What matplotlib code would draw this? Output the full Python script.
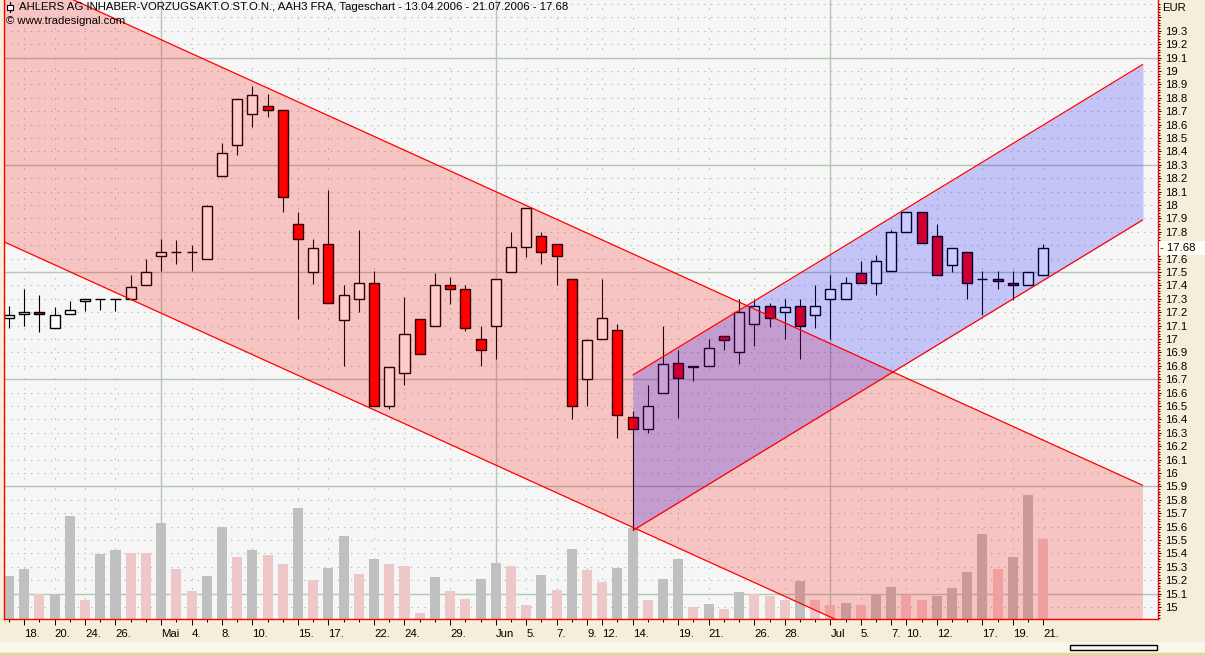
import matplotlib
matplotlib.use("Agg")
import matplotlib.pyplot as plt
import numpy as np
from matplotlib.patches import Rectangle
from matplotlib.lines import Line2D

plt.rcParams['font.family'] = ['Liberation Sans', 'DejaVu Sans']

W, H = 1205, 656

# ---------------- data ----------------
title = "AHLERS AG INHABER-VORZUGSAKT.O.ST.O.N., AAH3 FRA, Tageschart - 13.04.2006 - 21.07.2006 - 17.68"
source = "\u00a9 www.tradesignal.com"
currency = "EUR"
last_price = 17.68

dates = (["2006-04-%02d" % d for d in [13, 18, 19, 20, 21, 24, 25, 26, 27, 28]] +
         ["2006-05-%02d" % d for d in [2, 3, 4, 5, 8, 9, 10, 11, 12, 15, 16, 17, 18, 19,
                                       22, 23, 24, 25, 26, 29, 30, 31]] +
         ["2006-06-%02d" % d for d in [1, 2, 5, 6, 7, 8, 9, 12, 13, 14, 15, 16, 19, 20,
                                       21, 22, 23, 26, 27, 28, 29, 30]] +
         ["2006-07-%02d" % d for d in [3, 4, 5, 6, 7, 10, 11, 12, 13, 14, 17, 18, 19, 20, 21]])

open_ = [17.16, 17.19, 17.20, 17.08, 17.19, 17.28, 17.30, 17.30, 17.30, 17.40,
         17.62, 17.65, 17.65, 17.60, 18.22, 18.45, 18.68, 18.74, 18.71, 17.86,
         17.50, 17.71, 17.14, 17.30, 17.42, 16.50, 16.75, 17.15, 17.10, 17.40,
         17.37, 17.00, 17.10, 17.50, 17.69, 17.77, 17.71, 17.45, 16.70, 17.00,
         17.07, 16.42, 16.33, 16.60, 16.82, 16.79, 16.80, 17.02, 16.90, 17.11,
         17.25, 17.20, 17.25, 17.18, 17.30, 17.30, 17.49, 17.42, 17.51, 17.80,
         17.95, 17.77, 17.55, 17.65, 17.45, 17.45, 17.42, 17.40, 17.48]
high = [17.25, 17.37, 17.33, 17.24, 17.28, 17.30, 17.30, 17.30, 17.48, 17.60,
        17.75, 17.74, 17.70, 18.00, 18.46, 18.79, 18.89, 18.83, 18.71, 17.95,
        17.75, 18.11, 17.40, 17.81, 17.51, 16.79, 17.31, 17.15, 17.49, 17.46,
        17.40, 17.10, 17.45, 17.80, 17.98, 17.80, 17.71, 17.45, 17.00, 17.45,
        17.11, 16.46, 16.66, 17.10, 16.92, 16.80, 17.00, 17.02, 17.30, 17.30,
        17.27, 17.30, 17.30, 17.40, 17.48, 17.46, 17.58, 17.63, 17.81, 17.95,
        17.95, 17.86, 17.68, 17.65, 17.51, 17.51, 17.51, 17.50, 17.71]
low = [17.08, 17.10, 17.05, 17.08, 17.19, 17.21, 17.22, 17.21, 17.30, 17.40,
       17.51, 17.56, 17.51, 17.60, 18.22, 18.37, 18.58, 18.66, 17.95, 17.15,
       17.41, 17.27, 16.80, 17.20, 16.50, 16.48, 16.66, 16.89, 17.10, 17.26,
       17.06, 16.80, 16.85, 17.50, 17.61, 17.56, 17.40, 16.40, 16.50, 17.00,
       16.26, 15.58, 16.30, 16.60, 16.41, 16.69, 16.80, 16.92, 16.81, 16.95,
       17.09, 17.00, 16.85, 17.08, 17.00, 17.30, 17.42, 17.33, 17.51, 17.80,
       17.72, 17.48, 17.50, 17.30, 17.18, 17.37, 17.29, 17.40, 17.48]
close = [17.18, 17.20, 17.19, 17.18, 17.22, 17.30, 17.30, 17.30, 17.39, 17.50,
         17.65, 17.65, 17.65, 17.99, 18.39, 18.79, 18.82, 18.71, 18.06, 17.75,
         17.68, 17.27, 17.33, 17.42, 16.50, 16.79, 17.04, 16.89, 17.40, 17.37,
         17.08, 16.92, 17.45, 17.69, 17.98, 17.65, 17.62, 16.50, 16.99, 17.16,
         16.43, 16.33, 16.50, 16.81, 16.71, 16.80, 16.93, 16.99, 17.20, 17.25,
         17.16, 17.24, 17.10, 17.25, 17.37, 17.42, 17.42, 17.58, 17.80, 17.95,
         17.72, 17.48, 17.68, 17.42, 17.45, 17.43, 17.40, 17.50, 17.68]

volume = [4300, 5000, 2500, 2500, 10300, 1900, 6500, 6900, 6600, 6600,
          9600, 5000, 2800, 4300, 9200, 6200, 6900, 6400, 5500, 11100,
          3900, 5100, 8300, 4500, 6000, 5500, 5300, 600, 4200, 2800,
          2000, 4000, 5600, 5300, 1400, 4400, 2900, 7000, 4900, 3700,
          5100, 9100, 1900, 4000, 6000, 1200, 1500, 1000, 2700, 2500,
          2300, 1900, 3800, 1900, 1400, 1600, 1400, 2400, 3200, 2400,
          1900, 2300, 3100, 4700, 8500, 5000, 6200, 12400, 8000]
# 1 = grey volume bar, 0 = pink volume bar
volume_grey = [1, 1, 0, 1, 1, 0, 1, 1, 0, 0, 1, 0, 0, 1, 1, 0, 1, 0, 0, 1,
               0, 1, 1, 0, 1, 0, 0, 0, 1, 0, 0, 1, 1, 0, 0, 1, 0, 1, 0, 0,
               1, 1, 0, 1, 1, 0, 1, 0, 1, 0, 0, 0, 1, 0, 0, 1, 0, 1, 1, 0,
               0, 1, 1, 1, 1, 0, 1, 1, 0]
volume_axis_top = 61900

tick_dates = ["2006-04-18", "2006-04-20", "2006-04-24", "2006-04-26", "2006-05-02",
              "2006-05-04", "2006-05-08", "2006-05-10", "2006-05-15", "2006-05-17",
              "2006-05-22", "2006-05-24", "2006-05-29", "2006-06-01", "2006-06-05",
              "2006-06-07", "2006-06-09", "2006-06-12", "2006-06-14", "2006-06-19",
              "2006-06-21", "2006-06-26", "2006-06-28", "2006-07-03", "2006-07-05",
              "2006-07-07", "2006-07-10", "2006-07-12", "2006-07-17", "2006-07-19",
              "2006-07-21"]
tick_texts = ["18.", "20.", "24.", "26.", "Mai", "4.", "8.", "10.", "15.", "17.",
              "22.", "24.", "29.", "Jun", "5.", "7.", "9.", "12.", "14.", "19.",
              "21.", "26.", "28.", "Jul", "5.", "7.", "10.", "12.", "17.", "19.",
              "21."]
month_starts = ["2006-05-02", "2006-06-01", "2006-07-03"]

# channels: (day position, price) of the two boundary lines
red_days = [-0.6, 74.55]
red_upper = [19.78, 15.907]
red_lower = [17.739, 13.866]
blue_days = [41.0, 74.55]
blue_upper = [16.73, 19.05]
blue_lower = [15.57, 17.89]

# ---------------- figure ----------------
BEIGE = '#F5EFD9'
FS = 8.2
fig = plt.figure(figsize=(W / 100, H / 100), dpi=100, facecolor=BEIGE)


def fx(px):
    return px / W


def fy(py):
    return 1 - py / H


ax = fig.add_axes([fx(4), fy(619), (1158 - 4) / W, 619 / H])
ax.set_facecolor('#F6F6F6')

x = np.arange(len(dates))
o = np.array(open_); c = np.array(close); hi = np.array(high); lo = np.array(low)
vol = np.array(volume, dtype=float)

XMIN, XMAX = -0.33, 75.54
YMIN, YMAX = 14.9104, 19.530

# grid lines
GRID = '#B2C8B2'
for k in range(0, 46):
    p = 15.0 + 0.1 * k
    if (k - 1) % 8 == 0:
        ax.axhline(p, color=GRID, lw=1.0, zorder=0.5)
    else:
        ax.axhline(p, color='#9FB59F', lw=0.8, ls=(0, (1, 5)), zorder=0.5)
for d in tick_dates:
    i = dates.index(d)
    if d in month_starts:
        ax.axvline(i, color=GRID, lw=1.0, zorder=0.5)
    else:
        ax.axvline(i, color='#9FB59F', lw=0.8, ls=(0, (1, 8)), zorder=0.5)

# volume bars (bottom of pane)
vcols = ['#C0C0C0' if g else '#EEC8C8' for g in volume_grey]
ax.bar(x, vol / volume_axis_top, bottom=0, width=0.66, color=vcols, lw=0,
       transform=ax.get_xaxis_transform(), zorder=1.5)

# candles
up = c >= o
ax.vlines(x, lo, hi, color='black', lw=0.8, zorder=2)
ax.bar(x, np.abs(c - o), bottom=np.minimum(o, c), width=0.66,
       color=['white' if u else '#FF0000' for u in up],
       edgecolor='black', linewidth=1.0, zorder=2.5)

# channels
ax.fill_between(red_days, red_lower, red_upper, color=(1, 0, 0), alpha=0.2, lw=0, zorder=3)
ax.fill_between(blue_days, blue_lower, blue_upper, color=(0, 0, 1), alpha=0.2, lw=0, zorder=3.1)
for xs, ys in [(red_days, red_upper), (red_days, red_lower),
               (blue_days, blue_upper), (blue_days, blue_lower)]:
    ax.plot(xs, ys, color='#FF0000', lw=0.9, zorder=4, solid_capstyle='butt')

ax.set_xlim(XMIN, XMAX)
ax.set_ylim(YMIN, YMAX)

# spines
ax.spines['top'].set_visible(False)
for s in ['left', 'right', 'bottom']:
    ax.spines[s].set_color('#FF0000')
    ax.spines[s].set_linewidth(1.0)

# y axis on the right
ax.yaxis.tick_right()
yt = [round(14.9 + 0.1 * k, 1) for k in range(0, 46)]
ax.set_yticks(yt)
ylabels = []
for v in yt:
    if abs(v - 19.4) < 1e-6 or abs(v - 17.7) < 1e-6:
        ylabels.append('')
    else:
        ylabels.append(('%.1f' % v).rstrip('0').rstrip('.'))
ax.set_yticklabels(ylabels)
ax.set_yticks(np.arange(14.92, 19.52, 0.02), minor=True)
ax.tick_params(axis='y', which='major', length=2.4, width=0.7, pad=3,
               labelsize=FS, colors='black', left=False, right=True)
ax.tick_params(axis='y', which='minor', length=1.2, width=0.7, left=False, right=True)
ax.set_ylim(YMIN, YMAX)

# x axis
xt = [dates.index(d) for d in tick_dates]
ax.set_xticks(xt)
ax.set_xticklabels(tick_texts, ha='left')
ax.set_xticks(x, minor=True)
ax.tick_params(axis='x', which='major', length=4.5, width=0.7, pad=2.5,
               labelsize=FS, colors='black')
ax.tick_params(axis='x', which='minor', length=2.2, width=0.7)
ax.set_xlim(XMIN, XMAX)

# last price marker on the scale
fig.patches.append(Rectangle((fx(1159), fy(255)), (W - 1159) / W, 14 / H,
                             transform=fig.transFigure, facecolor='#FFFFF6',
                             edgecolor='none', zorder=5))
fig.text(fx(1160), fy(248), "- %.2f" % last_price, fontsize=FS, va='center', ha='left', zorder=6)
fig.text(fx(1162), fy(8), currency, fontsize=FS, va='center', ha='left')

# header texts
fig.text(fx(19), fy(7), title, fontsize=FS, va='center', ha='left', zorder=6)
fig.text(fx(6), fy(21), source, fontsize=FS, va='center', ha='left', zorder=6)
fig.lines.append(Line2D([fx(10), fx(10)], [fy(2), fy(12)], transform=fig.transFigure,
                        color='black', lw=0.8, zorder=6))
fig.patches.append(Rectangle((fx(7.5), fy(9.5)), 5 / W, 5 / H, transform=fig.transFigure,
                             facecolor='white', edgecolor='black', lw=0.8, zorder=7))

# bottom band and scroll box
fig.patches.append(Rectangle((0, fy(652)), 1, 10 / H, transform=fig.transFigure,
                             facecolor='#FAF6EA', edgecolor='none', zorder=0))
fig.patches.append(Rectangle((0, 0), 1, 3 / H, transform=fig.transFigure,
                             facecolor='#E2D6A8', edgecolor='none', zorder=0))
fig.patches.append(Rectangle((fx(1070), fy(650)), 87 / W, 5 / H, transform=fig.transFigure,
                             facecolor='none', edgecolor='black', lw=1.0, zorder=6))

fig.savefig('out.png', dpi=100, facecolor=BEIGE)
